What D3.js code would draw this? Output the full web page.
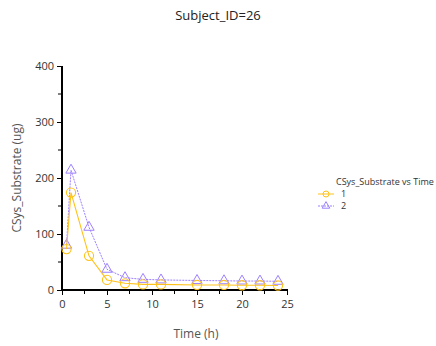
<!DOCTYPE html>
<html>
<head>
<meta charset="utf-8">
<script src="https://cdn.jsdelivr.net/npm/d3@7"></script>
<style>
  html, body { margin: 0; padding: 0; background: #fff; }
  svg { display: block; font-family: "Segoe UI", "Open Sans", "Noto Sans", sans-serif; }
</style>
</head>
<body>
<svg id="chart" width="436" height="346"></svg>
<script>
// Sampling times (h)
const times = [0.5, 1, 3, 5, 7, 9, 11, 15, 18, 20, 22, 24];
// CSys_Substrate (ug) per group
const series1 = [73, 174, 61, 18, 12, 10, 10, 9, 9, 8.5, 8.5, 8];
const series2 = [80, 214, 112, 37, 22, 19, 18, 17, 16.5, 16, 16, 15.5];
const seriesNames = ["1", "2"];
const xTicks = [0, 5, 10, 15, 20, 25];
const yTicks = [0, 100, 200, 300, 400];

const svg = d3.select("#chart");
const x = d3.scaleLinear().domain([0, 25]).range([62, 287]);
const y = d3.scaleLinear().domain([0, 400]).range([290, 66]);

const orange = "#FFC21A";
const purple = "#9D80FF";

// Title
svg.append("text").attr("x", 218).attr("y", 20).attr("text-anchor", "middle")
  .attr("font-size", 13).attr("fill", "#222").text("Subject_ID=26");

// Minor ticks
svg.append("g").selectAll("line").data(d3.range(50, 400, 100)).join("line")
  .attr("x1", 58).attr("x2", 62).attr("y1", d => y(d)).attr("y2", d => y(d))
  .attr("stroke", "#000").attr("stroke-width", 1);
svg.append("g").selectAll("line").data(d3.range(2.5, 25, 5)).join("line")
  .attr("y1", 290).attr("y2", 294).attr("x1", d => x(d)).attr("x2", d => x(d))
  .attr("stroke", "#000").attr("stroke-width", 1);

// Axes
const yAxis = d3.axisLeft(y).tickValues(yTicks).tickSize(5).tickPadding(3).tickFormat(d3.format("d"));
const gy = svg.append("g").attr("transform", "translate(62,0)").call(yAxis);
const xAxis = d3.axisBottom(x).tickValues(xTicks).tickSize(5).tickPadding(5).tickFormat(d3.format("d"));
const gx = svg.append("g").attr("transform", "translate(0,290)").call(xAxis);
[gx, gy].forEach(g => {
  g.select(".domain").remove();
  g.selectAll(".tick line").attr("stroke", "#000");
  g.selectAll(".tick text").attr("font-size", 11).attr("fill", "#333")
    .attr("font-family", "'Segoe UI', 'Open Sans', sans-serif");
});
svg.append("line").attr("x1", 62).attr("x2", 62).attr("y1", y(400)).attr("y2", 291)
  .attr("stroke", "#000").attr("stroke-width", 2);
svg.append("line").attr("x1", 61).attr("x2", 288).attr("y1", 290).attr("y2", 290)
  .attr("stroke", "#000").attr("stroke-width", 2);

// Axis titles
svg.append("text").attr("x", 196).attr("y", 338).attr("text-anchor", "middle")
  .attr("font-size", 12).attr("fill", "#555").text("Time (h)");
svg.append("text").attr("transform", "translate(21,178) rotate(-90)").attr("text-anchor", "middle")
  .attr("font-size", 12).attr("fill", "#555").text("CSys_Substrate (ug)");

// Lines and markers
const line = d3.line().x((d, i) => x(times[i])).y(d => y(d));
const tri = d3.symbol().type(d3.symbolTriangle).size(46);

svg.append("path").datum(series2).attr("d", line).attr("fill", "none")
  .attr("stroke", purple).attr("stroke-width", 1).attr("stroke-dasharray", "2,1");
svg.append("g").selectAll("path").data(series2).join("path")
  .attr("d", tri).attr("transform", (d, i) => `translate(${x(times[i])},${y(d)})`)
  .attr("fill", "none").attr("stroke", purple).attr("stroke-width", 1);

svg.append("path").datum(series1).attr("d", line).attr("fill", "none")
  .attr("stroke", orange).attr("stroke-width", 1.1);
svg.append("g").selectAll("circle").data(series1).join("circle")
  .attr("cx", (d, i) => x(times[i])).attr("cy", d => y(d)).attr("r", 4.6)
  .attr("fill", "none").attr("stroke", orange).attr("stroke-width", 1.1);

// Legend
const lg = svg.append("g");
lg.append("text").attr("x", 336).attr("y", 185).attr("font-size", 9).attr("fill", "#333")
  .text("CSys_Substrate vs Time");
const legendItems = [
  { name: seriesNames[0], color: orange, dash: null, shape: "circle" },
  { name: seriesNames[1], color: purple, dash: "2,1", shape: "triangle" }
];
legendItems.forEach((it, i) => {
  const cy = 194 + i * 12;
  lg.append("line").attr("x1", 318).attr("x2", 334).attr("y1", cy).attr("y2", cy)
    .attr("stroke", it.color).attr("stroke-width", 1).attr("stroke-dasharray", it.dash);
  if (it.shape === "circle") {
    lg.append("circle").attr("cx", 326).attr("cy", cy).attr("r", 3)
      .attr("fill", "none").attr("stroke", it.color);
  } else {
    lg.append("path").attr("d", d3.symbol().type(d3.symbolTriangle).size(25))
      .attr("transform", `translate(326,${cy})`).attr("fill", "none").attr("stroke", it.color);
  }
  lg.append("text").attr("x", 341).attr("y", cy + 3).attr("font-size", 9).attr("fill", "#333").text(it.name);
});
</script>
</body>
</html>
